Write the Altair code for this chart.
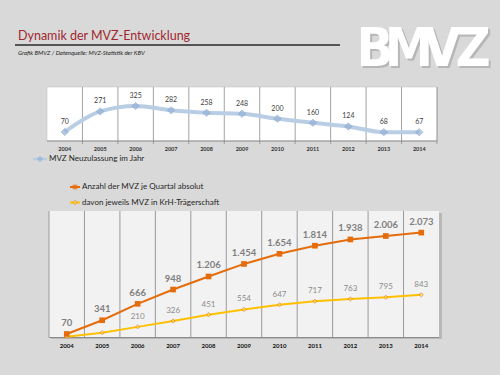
import altair as alt
import pandas as pd

# ---------------- data ----------------
years = [2004, 2005, 2006, 2007, 2008, 2009, 2010, 2011, 2012, 2013, 2014]
new_mvz = [70, 271, 325, 282, 258, 248, 200, 160, 124, 68, 67]
mvz_total = [70, 341, 666, 948, 1206, 1454, 1654, 1814, 1938, 2006, 2073]
mvz_krh = [15, 95, 210, 326, 451, 554, 647, 717, 763, 795, 843]
krh_show_label = [False, False, True, True, True, True, True, True, True, True, True]

title_text = "Dynamik der MVZ-Entwicklung"
subtitle_text = "Grafik BMVZ / Datenquelle:  MVZ-Statistik der KBV"
legend_top = "MVZ Neuzulassung im Jahr"
legend_total = "Anzahl der MVZ je Quartal absolut"
legend_krh = "davon jeweils MVZ in KrH-Trägerschaft"
logo_letters = ["B", "M", "V", "Z"]
logo_x = [375, 409, 442, 473]


def de_fmt(v):
    return f"{v:,}".replace(",", ".")


df_top = pd.DataFrame({"year": years, "v": new_mvz, "label": [str(v) for v in new_mvz]})
df_bot = pd.DataFrame({
    "year": years,
    "total": mvz_total,
    "krh": mvz_krh,
    "total_label": [de_fmt(v) for v in mvz_total],
    "krh_label": [de_fmt(v) if s else "" for v, s in zip(mvz_krh, krh_show_label)],
})
df_bounds = pd.DataFrame({"b": [y + 0.5 for y in years[:-1]]})
one = pd.DataFrame({"k": [0]})

FONT = "Lato"
xdom = [years[0] - 0.5, years[-1] + 0.5]

# scales (pixel ranges place the panels on the slide)
xs_top = alt.Scale(domain=xdom, range=[47, 437], nice=False, zero=False)
ys_top = alt.Scale(domain=[0, 500], range=[139.1, 88.1], nice=False, zero=False)
xs_bot = alt.Scale(domain=xdom, range=[49, 439], nice=False, zero=False)
ys_bot = alt.Scale(domain=[0, 2500], range=[337.5, 211], nice=False, zero=False)

layers = []

# ---------- header ----------
layers.append(alt.Chart(one).mark_text(
    text=title_text, font=FONT, fontSize=12.5, color="#a0282f", align="left", baseline="alphabetic"
).encode(x=alt.value(18), y=alt.value(40)))
layers.append(alt.Chart(one).mark_rule(color="#555555", strokeWidth=2).encode(
    x=alt.value(15), x2=alt.value(340), y=alt.value(45)))
layers.append(alt.Chart(one).mark_text(
    text=subtitle_text, font=FONT, fontSize=6, fontStyle="italic", color="#222222", align="left", baseline="middle"
).encode(x=alt.value(18), y=alt.value(53)))
# logo (letter by letter, tightly set)
LOGO_FONT = "DejaVu Sans Condensed, DejaVu Sans, sans-serif"
for letter, lx in zip(logo_letters, logo_x):
    layers.append(alt.Chart(one).mark_text(
        text=letter, font=LOGO_FONT, fontSize=54, fontWeight="bold", color="#a8a8a8", opacity=0.7,
        align="center", baseline="alphabetic"
    ).encode(x=alt.value(lx + 2), y=alt.value(68)))
for letter, lx in zip(logo_letters, logo_x):
    layers.append(alt.Chart(one).mark_text(
        text=letter, font=LOGO_FONT, fontSize=54, fontWeight="bold", color="#ffffff",
        align="center", baseline="alphabetic"
    ).encode(x=alt.value(lx), y=alt.value(66)))

# ---------- top panel ----------
layers.append(alt.Chart(one).mark_rect(fill="#ffffff", stroke="#bfbfbf", strokeWidth=0.5).encode(
    x=alt.value(47), x2=alt.value(437), y=alt.value(87), y2=alt.value(141)))
layers.append(alt.Chart(df_bounds).mark_rule(color="#8c8c8c", strokeWidth=0.8).encode(
    x=alt.X("b:Q", scale=xs_top, axis=None), y=alt.value(87), y2=alt.value(144)))
layers.append(alt.Chart(one).mark_rule(color="#8c8c8c", strokeWidth=0.8).encode(
    x=alt.value(437), y=alt.value(87), y2=alt.value(144)))
layers.append(alt.Chart(one).mark_rule(color="#8c8c8c", strokeWidth=1).encode(
    x=alt.value(47), x2=alt.value(437), y=alt.value(141)))
layers.append(alt.Chart(df_top).mark_line(color="#b9cde5", strokeWidth=4, interpolate="monotone").encode(
    x=alt.X("year:Q", scale=xs_top, axis=None), y=alt.Y("v:Q", scale=ys_top, axis=None)))
layers.append(alt.Chart(df_top).mark_point(shape="diamond", filled=True, size=55, color="#95b3d7",
                                          stroke="#7a9cc9", strokeWidth=0.7).encode(
    x=alt.X("year:Q", scale=xs_top, axis=None), y=alt.Y("v:Q", scale=ys_top, axis=None)))
layers.append(alt.Chart(df_top).mark_text(font=FONT, fontSize=7, color="#404040", dy=-10).encode(
    x=alt.X("year:Q", scale=xs_top, axis=None), y=alt.Y("v:Q", scale=ys_top, axis=None), text="label:N"))
layers.append(alt.Chart(df_top).mark_text(font=FONT, fontSize=5.5, fontWeight="bold", color="#333333").encode(
    x=alt.X("year:Q", scale=xs_top, axis=None), y=alt.value(149), text="year:N"))
# top legend
layers.append(alt.Chart(one).mark_rule(color="#b9cde5", strokeWidth=2.5).encode(
    x=alt.value(33), x2=alt.value(47), y=alt.value(159)))
layers.append(alt.Chart(one).mark_point(shape="diamond", filled=True, size=40, color="#95b3d7").encode(
    x=alt.value(40), y=alt.value(159)))
layers.append(alt.Chart(one).mark_text(text=legend_top, font=FONT, fontSize=8, color="#262626",
                                       align="left", baseline="middle").encode(x=alt.value(49), y=alt.value(159)))

# ---------- bottom legend ----------
layers.append(alt.Chart(one).mark_rule(color="#e46c0a", strokeWidth=2).encode(
    x=alt.value(70), x2=alt.value(80), y=alt.value(187)))
layers.append(alt.Chart(one).mark_point(shape="square", filled=True, size=22, color="#e46c0a").encode(
    x=alt.value(75), y=alt.value(187)))
layers.append(alt.Chart(one).mark_text(text=legend_total, font=FONT, fontSize=8, color="#262626",
                                       align="left", baseline="middle").encode(x=alt.value(82), y=alt.value(187)))
layers.append(alt.Chart(one).mark_rule(color="#ffc000", strokeWidth=2).encode(
    x=alt.value(70), x2=alt.value(80), y=alt.value(202.5)))
layers.append(alt.Chart(one).mark_point(shape="diamond", filled=True, size=18, color="#ffd966",
                                        stroke="#e46c0a", strokeWidth=0.8).encode(
    x=alt.value(75), y=alt.value(202.5)))
layers.append(alt.Chart(one).mark_text(text=legend_krh, font=FONT, fontSize=8, color="#262626",
                                       align="left", baseline="middle").encode(x=alt.value(82), y=alt.value(202.5)))

# ---------- bottom panel ----------
layers.append(alt.Chart(one).mark_rect(fill="#b8b8b8").encode(
    x=alt.value(51), x2=alt.value(442), y=alt.value(213), y2=alt.value(339)))
layers.append(alt.Chart(one).mark_rect(fill="#f2f2f2").encode(
    x=alt.value(49), x2=alt.value(439), y=alt.value(211), y2=alt.value(337.5)))
layers.append(alt.Chart(df_bounds).mark_rule(color="#9a9a9a", strokeWidth=1).encode(
    x=alt.X("b:Q", scale=xs_bot, axis=None), y=alt.value(211), y2=alt.value(337.5)))
layers.append(alt.Chart(one).mark_rule(color="#9a9a9a", strokeWidth=1).encode(
    x=alt.value(49), y=alt.value(211), y2=alt.value(337.5)))
layers.append(alt.Chart(one).mark_rule(color="#8c8c8c", strokeWidth=1.2).encode(
    x=alt.value(49), x2=alt.value(439), y=alt.value(337.5)))
layers.append(alt.Chart(df_bot).mark_line(color="#ffc000", strokeWidth=2).encode(
    x=alt.X("year:Q", scale=xs_bot, axis=None), y=alt.Y("krh:Q", scale=ys_bot, axis=None)))
layers.append(alt.Chart(df_bot).mark_point(shape="diamond", filled=True, size=18, color="#ffd966",
                                          stroke="#e46c0a", strokeWidth=0.8).encode(
    x=alt.X("year:Q", scale=xs_bot, axis=None), y=alt.Y("krh:Q", scale=ys_bot, axis=None)))
layers.append(alt.Chart(df_bot).mark_line(color="#e46c0a", strokeWidth=2).encode(
    x=alt.X("year:Q", scale=xs_bot, axis=None), y=alt.Y("total:Q", scale=ys_bot, axis=None)))
layers.append(alt.Chart(df_bot).mark_point(shape="square", filled=True, size=32, color="#e46c0a", opacity=1).encode(
    x=alt.X("year:Q", scale=xs_bot, axis=None), y=alt.Y("total:Q", scale=ys_bot, axis=None)))
layers.append(alt.Chart(df_bot).mark_text(font=FONT, fontSize=9.5, fontWeight="bold", color="#7f7f7f", dy=-11).encode(
    x=alt.X("year:Q", scale=xs_bot, axis=None), y=alt.Y("total:Q", scale=ys_bot, axis=None), text="total_label:N"))
layers.append(alt.Chart(df_bot).mark_text(font=FONT, fontSize=8, color="#8c8c8c", dy=-10).encode(
    x=alt.X("year:Q", scale=xs_bot, axis=None), y=alt.Y("krh:Q", scale=ys_bot, axis=None), text="krh_label:N"))
layers.append(alt.Chart(df_bot).mark_text(font=FONT, fontSize=6, fontWeight="bold", color="#111111").encode(
    x=alt.X("year:Q", scale=xs_bot, axis=None), y=alt.value(346), text="year:N"))

chart = alt.layer(*layers).resolve_scale(x="independent", y="independent").properties(
    width=500, height=375, padding=0, autosize="none", background="#d9d9d9"
).configure_view(stroke=None)

chart.save("out.html", embed_options={"renderer": "svg", "actions": False})
